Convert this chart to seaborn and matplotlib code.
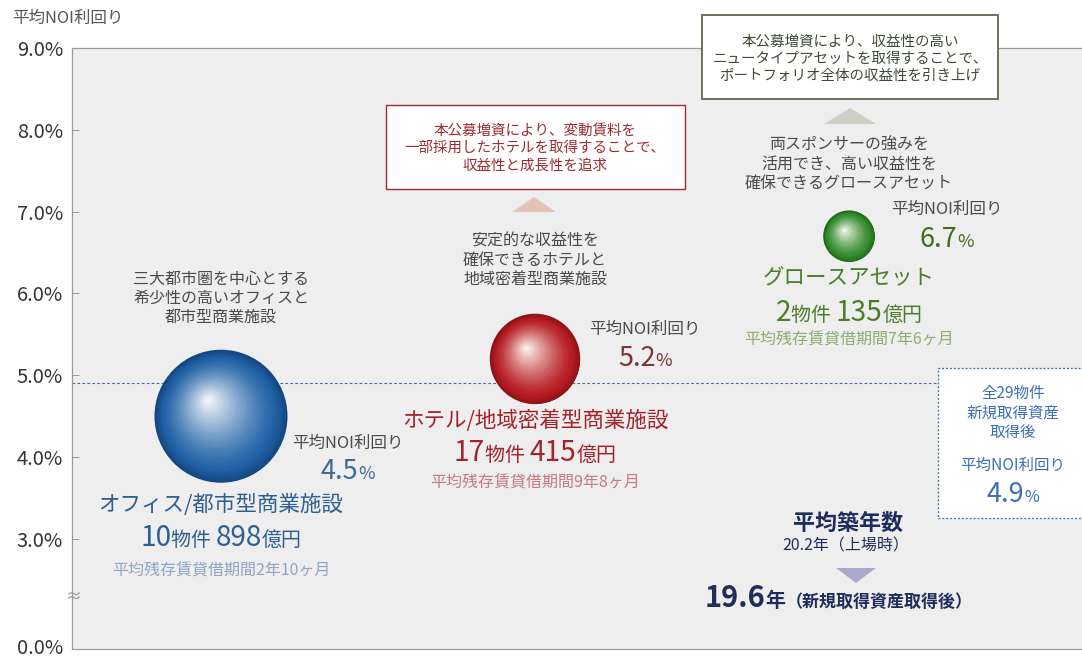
import numpy as np
import pandas as pd
import matplotlib
matplotlib.use("Agg")
import matplotlib.pyplot as plt
import seaborn as sns
from matplotlib.transforms import IdentityTransform, ScaledTranslation
from matplotlib.patches import Rectangle, Polygon
from matplotlib.colors import to_rgb

# ---------------- data ----------------
categories = ["オフィス/都市型商業施設", "ホテル/地域密着型商業施設", "グロースアセット"]
noi_yield = [4.5, 5.2, 6.7]            # 平均NOI利回り (%)
property_count = [10, 17, 2]            # 物件数
amount_oku = [898, 415, 135]            # 取得価格 (億円)
lease_term = ["2年10ヶ月", "9年8ヶ月", "7年6ヶ月"]
descriptions = [
    "三大都市圏を中心とする\n希少性の高いオフィスと\n都市型商業施設",
    "安定的な収益性を\n確保できるホテルと\n地域密着型商業施設",
    "両スポンサーの強みを\n活用でき、高い収益性を\n確保できるグロースアセット",
]
box_hotel = "本公募増資により、変動賃料を\n一部採用したホテルを取得することで、\n収益性と成長性を追求"
box_growth = "本公募増資により、収益性の高い\nニュータイプアセットを取得することで、\nポートフォリオ全体の収益性を引き上げ"
overall_yield = 4.9
overall_count = 29
age_listing = 20.2
age_after = 19.6
ytick_values = [0, 3, 4, 5, 6, 7, 8, 9]
ytick_labels = [f"{v:.1f}%" for v in ytick_values]

# ---------------- style ----------------
edge_colors = ["#164680", "#8e1217", "#1f661b"]
mid_colors = ["#2062a6", "#b61d24", "#318a2b"]
hi_colors = ["#f2f5fa", "#fcefe8", "#eef5e4"]
label_colors = ["#2f5f92", "#a3232b", "#4b7d2b"]
value_colors = ["#3d6a99", "#7e3333", "#3e6e1e"]
sub_colors = ["#8ea6c2", "#c47c7c", "#8aae72"]
gray = "#4a4a4a"

W, H = 1082, 660
sns.set_theme(style="white")
plt.rcParams["font.family"] = ["Noto Sans CJK JP", "DejaVu Sans"]

fig = plt.figure(figsize=(W / 72, H / 72), dpi=72)
fig.patch.set_facecolor("white")
ax = fig.add_axes([72 / W, 11 / H, (W - 72 + 5) / W, 601 / H])
ax.set_facecolor("#eeeeee")

# broken y axis: compress 0-3%
COMP = 1.345 / 3.0
def fwd(y):
    y = np.asarray(y, dtype=float)
    return np.where(y >= 3, y, 3 - (3 - y) * COMP)
def inv(v):
    v = np.asarray(v, dtype=float)
    return np.where(v >= 3, v, 3 - (3 - v) / COMP)
ax.set_yscale("function", functions=(fwd, inv))

df = pd.DataFrame({"category": categories, "noi_yield": noi_yield, "amount": amount_oku})
sns.scatterplot(data=df, x="category", y="noi_yield", hue="category",
                palette=dict(zip(categories, edge_colors)), size="amount",
                sizes=(0, 133 ** 2), size_norm=(0, max(amount_oku)),
                legend=False, linewidth=0, ax=ax, zorder=3)

ax.set_ylim(0, 9)
ax.set_xlim(-0.4745, 2.758)
ax.set_yticks(ytick_values)
ax.set_yticklabels(ytick_labels)
ax.set_xticks([])
ax.set_xlabel("")
ax.set_ylabel("")
ax.tick_params(axis="y", direction="in", length=7, width=1, color="#999999",
               labelsize=20, labelcolor="#333333", pad=9, left=True)
for side in ["left", "bottom", "top"]:
    ax.spines[side].set_color("#9a9a9a")
    ax.spines[side].set_linewidth(1.2)
ax.spines["right"].set_visible(False)
# lift the bottom (0.0%) label slightly so it stays inside the canvas
lbl0 = ax.get_yticklabels()[0]
lbl0.set_transform(lbl0.get_transform() + ScaledTranslation(0, 3 / 72, fig.dpi_scale_trans))

# overall average dashed line (stops at the summary box)
ax.axhline(overall_yield, xmin=0, xmax=(938 - 72) / (W - 72 + 5), color="#4a6a9a",
           lw=1.1, ls=(0, (2.5, 2)), zorder=1)

# ---- sphere shading, derived from seaborn's scatter ----
coll = ax.collections[0]
offs = coll.get_offsets()
sizes = coll.get_sizes()
N = 50
hx, hy = -0.2, 0.25
for i in range(len(offs)):
    R = np.sqrt(sizes[i]) / 2
    e, m, h = np.array(to_rgb(edge_colors[i])), np.array(to_rgb(mid_colors[i])), np.array(to_rgb(hi_colors[i]))
    for k in range(1, N + 1):
        t = k / N
        r = R * (1 - 0.97 * t)
        if t < 0.15:
            c = e + (m - e) * (t / 0.15)
        else:
            u = ((t - 0.15) / 0.85) ** 1.25
            c = m + (h - m) * u
        tr = ax.transData + ScaledTranslation(t * hx * R / 72, t * hy * R / 72, fig.dpi_scale_trans)
        ax.scatter([offs[i][0]], [offs[i][1]], s=(2 * r) ** 2, color=[tuple(np.clip(c, 0, 1))],
                   linewidths=0, transform=tr, zorder=4)

# ---------------- text helpers (image pixel coordinates) ----------------
renderer = fig.canvas.get_renderer()

def txt(x, y, s, size, color, ha="center", va="center", weight="normal", ls=1.25):
    return fig.text(x, H - y, s, transform=IdentityTransform(), fontsize=size, color=color,
                    ha=ha, va=va, fontweight=weight, linespacing=ls, zorder=10,
                    multialignment="center")

def rich(x, y, segs, ha="center"):
    objs = []
    for s, size, color, weight in segs:
        objs.append(fig.text(0, H - y, s, transform=IdentityTransform(), fontsize=size,
                             color=color, fontweight=weight, ha="left", va="baseline", zorder=10))
    widths = [o.get_window_extent(renderer).width for o in objs]
    x0 = x - sum(widths) / 2 if ha == "center" else x
    for o, w in zip(objs, widths):
        o.set_x(x0)
        x0 += w

def box(x0, y0, x1, y1, ec, lw=1.3, ls="-"):
    fig.add_artist(Rectangle((x0, H - y1), x1 - x0, y1 - y0, transform=IdentityTransform(),
                             facecolor="white", edgecolor=ec, lw=lw, ls=ls, zorder=5))

def tri(cx, ytop, ybot, half, color, up=True):
    if up:
        pts = [(cx, H - ytop), (cx - half, H - ybot), (cx + half, H - ybot)]
    else:
        pts = [(cx - half, H - ytop), (cx + half, H - ytop), (cx, H - ybot)]
    fig.add_artist(Polygon(pts, closed=True, transform=IdentityTransform(),
                           facecolor=color, edgecolor="none", zorder=5))

# axis title
txt(12, 18, "平均NOI利回り", 16.5, "#555555", ha="left")
# axis break mark
txt(74, 597, "≈", 16, "#999999")

# per-category annotations
cx = [221, 535, 849]
desc_y = [298, 260, 164]
noi_pos = [(348, 443, 470), (645, 329, 357), (947, 209, 238)]
label_y = [505, 421, 277]
count_y = [546, 461, 321]
lease_y = [571, 483, 340]
for i in range(3):
    txt(cx[i], desc_y[i], descriptions[i], 16, gray, ls=1.15)
    nx, ny1, ny2 = noi_pos[i]
    txt(nx, ny1, "平均NOI利回り", 16.5, gray)
    rich(nx, ny2 + 9, [(f"{noi_yield[i]:.1f}", 27, value_colors[i], "normal"),
                       ("%", 18, value_colors[i], "normal")])
    txt(cx[i], label_y[i], categories[i], 21.5, label_colors[i])
    rich(cx[i], count_y[i], [(f"{property_count[i]}", 28, label_colors[i], "normal"),
                             ("物件 ", 20, label_colors[i], "normal"),
                             (f"{amount_oku[i]}", 28, label_colors[i], "normal"),
                             ("億円", 20, label_colors[i], "normal")])
    txt(cx[i], lease_y[i], f"平均残存賃貸借期間{lease_term[i]}", 16, sub_colors[i])

# hotel box + arrow
box(386, 105, 685, 189, "#9e2b31", lw=1.4)
txt(535, 148, box_hotel, 14.5, "#9e2b31", ls=1.3)
tri(534, 197, 212, 22, "#e2c3b5", up=True)

# growth box + arrow
box(702, 15, 998, 99, "#5d6b4c", lw=1.8)
txt(850, 59, box_growth, 14.5, "#3f4a35", ls=1.3)
tri(850, 108, 124, 26, "#cdd1c4", up=True)

# overall summary box
box(938, 368, W + 10, 518, "#3d6eb5", lw=1.3, ls=(0, (1.5, 1.5)))
blue = "#3d6eb5"
txt(1013, 413, f"全{overall_count}物件\n新規取得資産\n取得後", 15.5, blue, ls=1.2)
txt(1013, 465, "平均NOI利回り", 15.5, blue)
rich(1013, 502, [(f"{overall_yield:.1f}", 27, blue, "normal"), ("%", 16, blue, "normal")])

# building age
navy = "#1f2d5c"
txt(848, 523, "平均築年数", 22, navy, weight="bold")
txt(846, 546, f"{age_listing}年（上場時）", 16, navy)
tri(856, 568, 583, 20, "#a9a9c9", up=False)
rich(705, 607, [(f"{age_after}", 29, navy, "bold"), ("年", 20, navy, "bold"),
                ("（新規取得資産取得後）", 17, navy, "bold")], ha="left")

fig.savefig("out.png", dpi=72, facecolor="white")
